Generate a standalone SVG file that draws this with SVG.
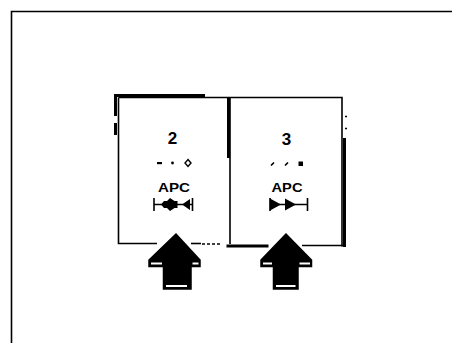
<svg xmlns="http://www.w3.org/2000/svg" width="452" height="343" viewBox="0 0 452 343">
<style>
.ln{stroke:#000;fill:none;stroke-width:1.6}
.tk{stroke:#000;fill:none;stroke-width:3}
.t{font-family:"Liberation Sans",Arial,sans-serif;font-weight:bold;fill:#000;text-anchor:middle}
.num{font-size:17px}
.apc{font-size:13.5px}
.arr{fill:#000;stroke:#000;stroke-width:1.5;stroke-linejoin:miter}
</style>
<rect width="452" height="343" fill="#fff"/>
<g id="frame">
<path class="ln" d="M11.5,343 V11.5 H452" stroke-width="2"/>
</g>
<g id="node-2">
<path class="ln" d="M118.5,97.5 H230 M118.5,97.5 V243.5 H157"/>
<path class="tk" d="M114,95.5 H205 M115.5,95 V116 M115.5,123 V135"/>
<path class="ln" d="M191,243.5 H201"/>
<path class="ln" d="M202,244 h3 m2,0 h3 m2,0 h3 m2,0 h3" stroke-width="2"/>
<text class="t num" x="172.5" y="143.5">2</text>
<rect x="157" y="162" width="5" height="2.2"/>
<circle cx="172.5" cy="163" r="1.4"/>
<path d="M188,159.5 l3,3.5 l-3,3.5 l-3,-3.5 z" fill="none" stroke="#000" stroke-width="1.4"/>
<text class="t apc" x="174" y="191.5" textLength="32" lengthAdjust="spacingAndGlyphs">APC</text>
<path class="ln" d="M154,198 V211 M154,204.5 H192.5 M192.5,198 V211" stroke-width="2.2"/>
<path d="M161,204.5 l3,-3.5 h3 l3,-3 l4.5,3 h3 v7 h-3 l-4.5,3 l-3,-3 h-3 z"/>
<path d="M182,204.5 l8,-5.5 v11 z"/>
</g>
<g id="node-3">
<path class="ln" d="M230,97.5 H342 V246.5"/>
<path class="tk" d="M228.5,97 V158 M344.5,138 V247 M226.5,246 H268.5"/>
<path class="ln" d="M230,97.5 V244 M302,245.5 H345.5"/>
<path class="ln" d="M345,116.5 h2 M345,128.5 h2" stroke-width="1.5"/>
<text class="t num" x="286.5" y="144.5">3</text>
<path d="M271,165.5 l3,-3 M285,165.5 l3,-3" stroke="#000" stroke-width="1.7"/>
<rect x="298.5" y="161.5" width="4.5" height="4.5"/>
<text class="t apc" x="287" y="191.5" textLength="31" lengthAdjust="spacingAndGlyphs">APC</text>
<path class="ln" d="M270,198 V211 M270,204.5 H307.5 M307.5,198 V211" stroke-width="2.2"/>
<path d="M270,198.5 l11,6 l-11,6 z"/>
<path d="M285,198.5 l11,6 l-11,6 z"/>
</g>
<g id="connectors">
<g id="arrow-1">
<path class="arr" d="M176,234 L149,260 V266.5 H163.5 V289 H191 V266.5 H200 V260 Z"/>
<rect x="151" y="262.5" width="11" height="2" fill="#fff"/>
<rect x="192.5" y="262.5" width="6" height="2" fill="#fff"/>
<rect x="166" y="285" width="21" height="2" fill="#fff"/>
</g>
<g id="arrow-2">
<path class="arr" d="M286,234 L261,260 V266.5 H273.5 V289 H298 V266.5 H311.5 V260 Z"/>
<rect x="263" y="262.5" width="9" height="2" fill="#fff"/>
<rect x="299.5" y="262.5" width="10.5" height="2" fill="#fff"/>
<rect x="276" y="285" width="19.5" height="2" fill="#fff"/>
</g>
</g>
</svg>
